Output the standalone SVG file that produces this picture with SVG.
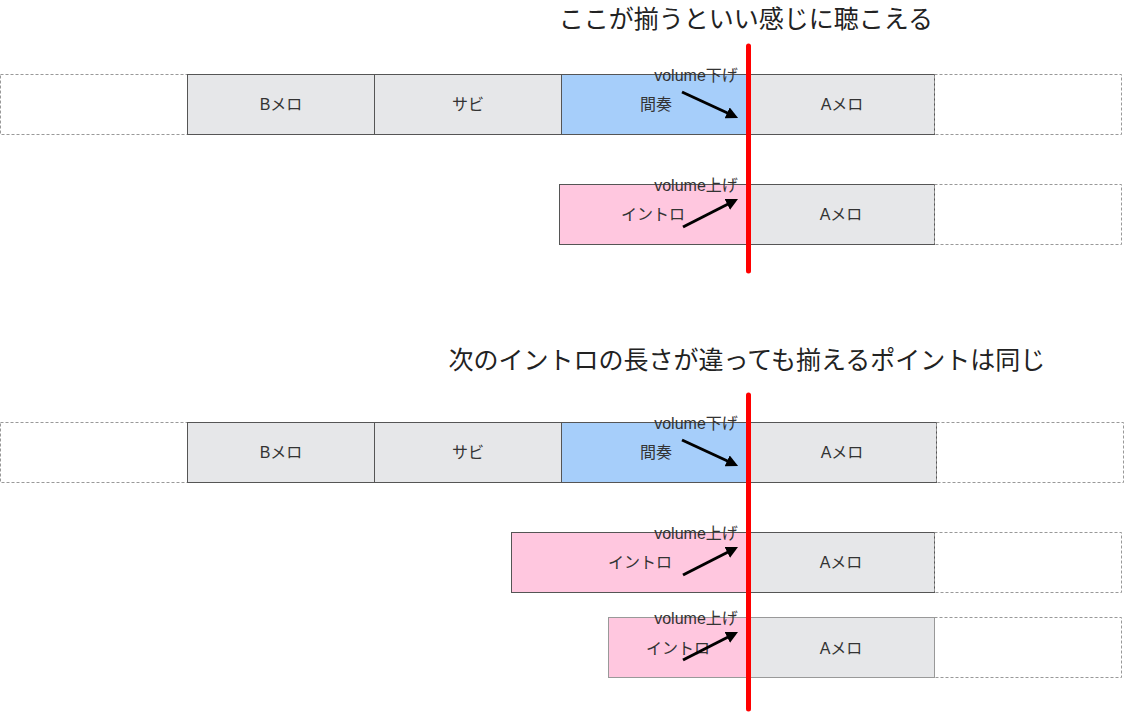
<svg xmlns="http://www.w3.org/2000/svg" width="1124" height="712" viewBox="0 0 1124 712">
<style>
.t{font-family:"Liberation Sans","Noto Sans CJK JP",sans-serif;font-size:16px;fill:#333;text-anchor:middle;dominant-baseline:central}
.title{font-family:"Noto Sans CJK JP",sans-serif;font-size:25px;fill:#222;text-anchor:middle;dominant-baseline:central}
.gray{fill:#e6e7e9;stroke:#555;stroke-width:1}
.blue{fill:#a6cefa;stroke:#555;stroke-width:1}
.pink{fill:#ffc7df;stroke:#555;stroke-width:1}
.dash{fill:none;stroke:#999;stroke-width:1;stroke-dasharray:3 2}
.arr{stroke:#000;stroke-width:3;fill:none;marker-end:url(#ah)}
.red{stroke:#ff0000;stroke-width:5;stroke-linecap:round}
</style>
<defs>
<marker id="ah" markerWidth="4" markerHeight="4" refX="2.5" refY="2" orient="auto" markerUnits="strokeWidth">
<path d="M0,0 L4,2 L0,4 z" fill="#000"/>
</marker>
</defs>
<text class="title" x="746" y="17">ここが揃うといい感じに聴こえる</text>
<text class="title" x="747" y="358">次のイントロの長さが違っても揃えるポイントは同じ</text>

<g id="top-row1">
<rect id="t1-pre" class="dash" x="0.5" y="74.5" width="187" height="60"/>
<g id="t1-bmelo"><rect class="gray" x="187.5" y="74.5" width="187" height="60"/><text class="t" x="281" y="104">Bメロ</text></g>
<g id="t1-sabi"><rect class="gray" x="374.5" y="74.5" width="187" height="60"/><text class="t" x="468" y="104">サビ</text></g>
<g id="t1-kanso"><rect class="blue" x="561.5" y="74.5" width="187" height="60"/><text class="t" x="656" y="104">間奏</text><text class="t" x="696" y="75">volume下げ</text></g>
<g id="t1-amelo"><rect class="gray" x="748.5" y="74.5" width="186" height="60"/><text class="t" x="842" y="104">Aメロ</text></g>
<rect id="t1-post" class="dash" x="934.5" y="74.5" width="187" height="60"/>
</g>
<g id="top-row2">
<g id="t2-intro"><rect class="pink" x="559.5" y="184.5" width="189" height="60"/><text class="t" x="653" y="214">イントロ</text><text class="t" x="696" y="185">volume上げ</text></g>
<g id="t2-amelo"><rect class="gray" x="748.5" y="184.5" width="186" height="60"/><text class="t" x="841" y="214">Aメロ</text></g>
<rect id="t2-post" class="dash" x="934.5" y="184.5" width="187" height="60"/>
</g>

<g id="bottom-row1">
<rect id="b1-pre" class="dash" x="0.5" y="422.5" width="187" height="60"/>
<g id="b1-bmelo"><rect class="gray" x="187.5" y="422.5" width="187" height="60"/><text class="t" x="281" y="452">Bメロ</text></g>
<g id="b1-sabi"><rect class="gray" x="374.5" y="422.5" width="187" height="60"/><text class="t" x="468" y="452">サビ</text></g>
<g id="b1-kanso"><rect class="blue" x="561.5" y="422.5" width="187" height="60"/><text class="t" x="656" y="452">間奏</text><text class="t" x="696" y="423">volume下げ</text></g>
<g id="b1-amelo"><rect class="gray" x="748.5" y="422.5" width="188" height="60"/><text class="t" x="842" y="452">Aメロ</text></g>
<rect id="b1-post" class="dash" x="936.5" y="422.5" width="187" height="60"/>
</g>
<g id="bottom-row2">
<g id="b2-intro"><rect class="pink" x="511.5" y="532.5" width="237" height="60"/><text class="t" x="640" y="562">イントロ</text><text class="t" x="696" y="533">volume上げ</text></g>
<g id="b2-amelo"><rect class="gray" x="748.5" y="532.5" width="186" height="60"/><text class="t" x="841" y="562">Aメロ</text></g>
<rect id="b2-post" class="dash" x="934.5" y="532.5" width="187" height="60"/>
</g>
<g id="bottom-row3">
<g id="b3-intro"><rect class="pink" x="608.5" y="617.5" width="140" height="60" style="stroke:#999"/><text class="t" x="678" y="648">イントロ</text><text class="t" x="696" y="618">volume上げ</text></g>
<g id="b3-amelo"><rect class="gray" x="748.5" y="617.5" width="186" height="60" style="stroke:#999"/><text class="t" x="841" y="648">Aメロ</text></g>
<rect id="b3-post" class="dash" x="934.5" y="617.5" width="187" height="60"/>
</g>

<g id="connectors">
<line class="arr" x1="682" y1="92" x2="734" y2="116"/>
<line class="arr" x1="683" y1="227" x2="734" y2="201"/>
<line class="arr" x1="682" y1="440" x2="734" y2="464"/>
<line class="arr" x1="683" y1="575" x2="734" y2="549"/>
<line class="arr" x1="683" y1="660" x2="734" y2="634"/>
<line class="red" x1="748.5" y1="46" x2="748.5" y2="271"/>
<line class="red" x1="748.5" y1="395" x2="748.5" y2="709"/>
</g>
</svg>
